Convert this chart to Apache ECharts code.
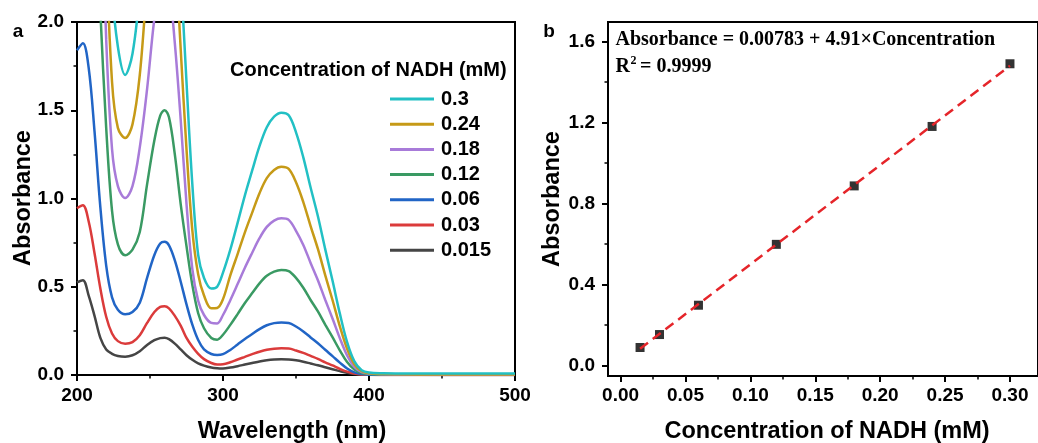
<!DOCTYPE html>
<html>
<head>
<meta charset="utf-8">
<script src="https://cdn.jsdelivr.net/npm/echarts@6/dist/echarts.min.js"></script>
<style>
  html, body { margin: 0; padding: 0; background: #ffffff; }
  #chart { width: 1038px; height: 443px; }
</style>
</head>
<body>
<div id="chart"></div>
<script>
// ---- Panel a: UV-Vis spectra of NADH at several concentrations ----
const wavelengths = [200, 204, 208, 212, 216, 220, 224, 228, 233, 238, 243, 248, 253, 257, 260, 263, 267, 271, 275, 279, 283, 287, 292, 296,
  300, 305, 310, 315, 320, 325, 330, 335, 340, 345, 350, 355, 360, 365, 370, 375, 380, 385, 390, 395, 400, 410, 420, 450, 500];

const abs0015 = [0.525, 0.537, 0.45, 0.335, 0.21, 0.145, 0.12, 0.108, 0.104, 0.112, 0.135, 0.17, 0.197, 0.209, 0.211, 0.203, 0.178, 0.145, 0.112, 0.086, 0.066, 0.053, 0.042, 0.038,
  0.037, 0.042, 0.05, 0.059, 0.068, 0.077, 0.084, 0.088, 0.089, 0.088, 0.083, 0.075, 0.065, 0.055, 0.044, 0.033, 0.022, 0.012, 0.005, 0.002, 0.001, 0.0005, 0.0003, 0.0002, 0.0002];

const abs003 = [0.945, 0.962, 0.87, 0.69, 0.49, 0.33, 0.235, 0.192, 0.177, 0.186, 0.225, 0.295, 0.357, 0.386, 0.39, 0.378, 0.335, 0.28, 0.21, 0.16, 0.12, 0.09, 0.068, 0.06,
  0.061, 0.072, 0.088, 0.103, 0.118, 0.132, 0.143, 0.149, 0.151, 0.15, 0.139, 0.125, 0.108, 0.091, 0.072, 0.054, 0.035, 0.019, 0.008, 0.003, 0.001, 0.0005, 0.0004, 0.0003, 0.0003];

const abs006 = [1.84, 1.88, 1.74, 1.38, 0.95, 0.62, 0.44, 0.37, 0.344, 0.357, 0.41, 0.55, 0.68, 0.745, 0.755, 0.735, 0.65, 0.53, 0.40, 0.285, 0.198, 0.145, 0.119, 0.113,
  0.118, 0.142, 0.173, 0.204, 0.232, 0.26, 0.282, 0.294, 0.298, 0.295, 0.275, 0.247, 0.213, 0.18, 0.143, 0.107, 0.07, 0.037, 0.015, 0.005, 0.002, 0.001, 0.001, 0.0005, 0.0005];

const abs012 = [3.66, 3.75, 3.45, 2.80, 2.06, 1.40, 0.93, 0.74, 0.678, 0.71, 0.81, 1.08, 1.33, 1.47, 1.50, 1.46, 1.25, 0.97, 0.73, 0.51, 0.35, 0.265, 0.21, 0.20,
  0.228, 0.284, 0.345, 0.408, 0.464, 0.519, 0.562, 0.586, 0.595, 0.589, 0.55, 0.494, 0.425, 0.36, 0.286, 0.214, 0.14, 0.074, 0.031, 0.011, 0.005, 0.003, 0.002, 0.001, 0.001];

const abs018 = [5.5, 5.62, 5.2, 4.2, 2.95, 1.90, 1.28, 1.07, 1.003, 1.07, 1.29, 1.62, 2.02, 2.22, 2.25, 2.2, 1.88, 1.45, 0.97, 0.60, 0.42, 0.34, 0.295, 0.292,
  0.34, 0.424, 0.515, 0.608, 0.693, 0.775, 0.839, 0.875, 0.888, 0.879, 0.817, 0.737, 0.635, 0.537, 0.426, 0.32, 0.209, 0.111, 0.046, 0.016, 0.008, 0.004, 0.003, 0.002, 0.002];

const abs024 = [7.3, 7.5, 6.9, 5.6, 4.0, 2.45, 1.66, 1.40, 1.343, 1.42, 1.70, 2.22, 2.68, 2.95, 3.0, 2.93, 2.45, 1.85, 1.28, 0.82, 0.57, 0.45, 0.378, 0.38,
  0.43, 0.565, 0.685, 0.808, 0.92, 1.03, 1.115, 1.162, 1.18, 1.168, 1.092, 0.98, 0.844, 0.714, 0.566, 0.425, 0.277, 0.148, 0.061, 0.021, 0.01, 0.005, 0.004, 0.003, 0.003];

const abs030 = [9.1, 9.4, 8.6, 7.0, 5.0, 3.2, 2.2, 1.86, 1.70, 1.82, 2.18, 2.85, 3.4, 3.7, 3.75, 3.65, 3.05, 2.3, 1.66, 1.08, 0.68, 0.55, 0.49, 0.50,
  0.58, 0.71, 0.862, 1.018, 1.159, 1.297, 1.404, 1.464, 1.486, 1.471, 1.375, 1.233, 1.062, 0.899, 0.713, 0.535, 0.349, 0.186, 0.077, 0.027, 0.014, 0.01, 0.009, 0.008, 0.008];

// legend order (top to bottom) and line colours
const spectraNames  = ['0.3', '0.24', '0.18', '0.12', '0.06', '0.03', '0.015'];
const spectraValues = [abs030, abs024, abs018, abs012, abs006, abs003, abs0015];
const spectraColors = ['#22C0C4', '#C69A17', '#A87BD9', '#3A9A63', '#2165C6', '#DB3B3B', '#454545'];

const xTicksA = [200, 300, 400, 500];
const yTicksA = [0.0, 0.5, 1.0, 1.5, 2.0];

// ---- Panel b: calibration at 340 nm ----
const concentrations = [0.015, 0.03, 0.06, 0.12, 0.18, 0.24, 0.30];
const absorbance340  = [0.088, 0.152, 0.297, 0.598, 0.887, 1.181, 1.491];
const fitIntercept = 0.00783;
const fitSlope = 4.91;
const fitR2 = '0.9999';
const fitRange = [0.015, 0.30];

const xTicksB      = [0.00, 0.05, 0.10, 0.15, 0.20, 0.25, 0.30];
const xMinorTicksB = [0.025, 0.075, 0.125, 0.175, 0.225, 0.275];
const yTicksB      = [0.0, 0.4, 0.8, 1.2, 1.6];
const yMinorTicksB = [0.2, 0.6, 1.0, 1.4];

const SANS = '"Liberation Sans", Arial, Helvetica, sans-serif';
const SERIF = '"Liberation Serif", "Times New Roman", serif';

const chart = echarts.init(document.getElementById('chart'), null, { renderer: 'canvas' });

const axisLineStyle = { color: '#000', width: 2 };
const labelStyle = { color: '#000', fontSize: 19, fontWeight: 'bold', fontFamily: SANS };

const spectraSeries = spectraNames.map((name, i) => ({
  name: name,
  type: 'line',
  xAxisIndex: 0,
  yAxisIndex: 0,
  data: wavelengths.map((w, k) => [w, spectraValues[i][k]]),
  showSymbol: false,
  symbol: 'none',
  smooth: 0.35,
  clip: true,
  color: spectraColors[i],
  lineStyle: { width: 2.5, color: spectraColors[i] },
  z: 10 - i
}));

const option = {
  animation: false,
  backgroundColor: '#ffffff',
  grid: [
    { left: 77, top: 22, width: 438, height: 353, show: true, borderColor: '#000', borderWidth: 2, containLabel: false },
    { left: 608, top: 22, width: 434, height: 354, show: true, borderColor: '#000', borderWidth: 2, containLabel: false }
  ],
  xAxis: [
    {
      type: 'value', gridIndex: 0, min: xTicksA[0], max: xTicksA[xTicksA.length - 1], interval: 100,
      axisLine: { show: true, onZero: false, lineStyle: axisLineStyle },
      axisTick: { show: true, length: 6, lineStyle: { color: '#000', width: 2 } },
      minorTick: { show: true, splitNumber: 2, length: 3.5, lineStyle: { color: '#000', width: 1.5 } },
      axisLabel: Object.assign({ margin: 11 }, labelStyle),
      splitLine: { show: false }
    },
    {
      type: 'value', gridIndex: 1, min: -0.0097, max: 0.3216, position: 'bottom',
      axisLine: { show: true, onZero: false, lineStyle: axisLineStyle },
      axisTick: { show: true, length: 6, lineStyle: { color: '#000', width: 2 }, customValues: xTicksB },
      axisLabel: Object.assign({ margin: 10, customValues: xTicksB, formatter: v => v.toFixed(2) }, labelStyle),
      splitLine: { show: false }
    },
    {
      type: 'value', gridIndex: 1, min: -0.0097, max: 0.3216, position: 'bottom',
      axisLine: { show: false, onZero: false },
      axisTick: { show: true, length: 3.5, lineStyle: { color: '#000', width: 1.5 }, customValues: xMinorTicksB },
      axisLabel: { show: false, customValues: xMinorTicksB },
      splitLine: { show: false }
    }
  ],
  yAxis: [
    {
      type: 'value', gridIndex: 0, min: yTicksA[0], max: yTicksA[yTicksA.length - 1], interval: 0.5,
      axisLine: { show: true, onZero: false, lineStyle: axisLineStyle },
      axisTick: { show: true, length: 6, lineStyle: { color: '#000', width: 2 } },
      minorTick: { show: true, splitNumber: 2, length: 3.5, lineStyle: { color: '#000', width: 1.5 } },
      axisLabel: Object.assign({ margin: 13, formatter: v => v.toFixed(1) }, labelStyle),
      splitLine: { show: false }
    },
    {
      type: 'value', gridIndex: 1, min: -0.053, max: 1.6975, position: 'left',
      axisLine: { show: true, onZero: false, lineStyle: axisLineStyle },
      axisTick: { show: true, length: 6, lineStyle: { color: '#000', width: 2 }, customValues: yTicksB },
      axisLabel: Object.assign({ margin: 13, customValues: yTicksB, formatter: v => v.toFixed(1) }, labelStyle),
      splitLine: { show: false }
    },
    {
      type: 'value', gridIndex: 1, min: -0.053, max: 1.6975, position: 'left',
      axisLine: { show: false, onZero: false },
      axisTick: { show: true, length: 3.5, lineStyle: { color: '#000', width: 1.5 }, customValues: yMinorTicksB },
      axisLabel: { show: false, customValues: yMinorTicksB },
      splitLine: { show: false }
    }
  ],
  legend: {
    data: spectraNames,
    orient: 'vertical',
    left: 390,
    top: 89,
    padding: 0,
    itemGap: 5.2,
    itemWidth: 44,
    itemHeight: 3,
    icon: 'rect',
    selectedMode: false,
    textStyle: { color: '#000', fontSize: 20, fontWeight: 'bold', fontFamily: SANS, lineHeight: 20, padding: [0, 0, 0, 2] }
  },
  series: spectraSeries.concat([
    {
      name: 'calibration points',
      type: 'scatter',
      xAxisIndex: 1,
      yAxisIndex: 1,
      data: concentrations.map((c, i) => [c, absorbance340[i]]),
      symbol: 'rect',
      symbolSize: 9,
      itemStyle: { color: '#000' },
      z: 5
    },
    {
      name: 'linear fit',
      type: 'line',
      xAxisIndex: 1,
      yAxisIndex: 1,
      data: fitRange.map(c => [c, fitIntercept + fitSlope * c]),
      symbol: 'none',
      lineStyle: { color: '#E5252A', width: 2.5, type: [10, 6] },
      z: 6
    }
  ]),
  graphic: [
    { type: 'text', x: 18, y: 32, style: { text: 'a', fill: '#000', font: 'bold 19px ' + SANS, align: 'center', verticalAlign: 'middle' } },
    { type: 'text', x: 549, y: 32, style: { text: 'b', fill: '#000', font: 'bold 19px ' + SANS, align: 'center', verticalAlign: 'middle' } },
    { type: 'text', x: 292, y: 432, style: { text: 'Wavelength (nm)', fill: '#000', font: 'bold 23.5px ' + SANS, align: 'center', verticalAlign: 'middle' } },
    { type: 'text', x: 827, y: 432, style: { text: 'Concentration of NADH (mM)', fill: '#000', font: 'bold 23.5px ' + SANS, align: 'center', verticalAlign: 'middle' } },
    { type: 'text', x: 23.5, y: 198, rotation: Math.PI / 2, style: { text: 'Absorbance', fill: '#000', font: 'bold 23.5px ' + SANS, align: 'center', verticalAlign: 'middle' } },
    { type: 'text', x: 553, y: 199, rotation: Math.PI / 2, style: { text: 'Absorbance', fill: '#000', font: 'bold 23.5px ' + SANS, align: 'center', verticalAlign: 'middle' } },
    { type: 'text', x: 230, y: 70, style: { text: 'Concentration of NADH (mM)', fill: '#000', font: 'bold 20px ' + SANS, align: 'left', verticalAlign: 'middle' } },
    { type: 'text', x: 615.5, y: 39.5, style: { text: 'Absorbance = ' + fitIntercept + ' + ' + fitSlope + '\u00D7Concentration', fill: '#000', font: 'bold 20px ' + SERIF, align: 'left', verticalAlign: 'middle' } },
    { type: 'text', x: 615.5, y: 67, style: { text: 'R', fill: '#000', font: 'bold 20px ' + SERIF, align: 'left', verticalAlign: 'middle' } },
    { type: 'text', x: 630.5, y: 61, style: { text: '2', fill: '#000', font: 'bold 12px ' + SERIF, align: 'left', verticalAlign: 'middle' } },
    { type: 'text', x: 640, y: 67, style: { text: '= ' + fitR2, fill: '#000', font: 'bold 20px ' + SERIF, align: 'left', verticalAlign: 'middle' } }
  ]
};

chart.setOption(option);
</script>
</body>
</html>
